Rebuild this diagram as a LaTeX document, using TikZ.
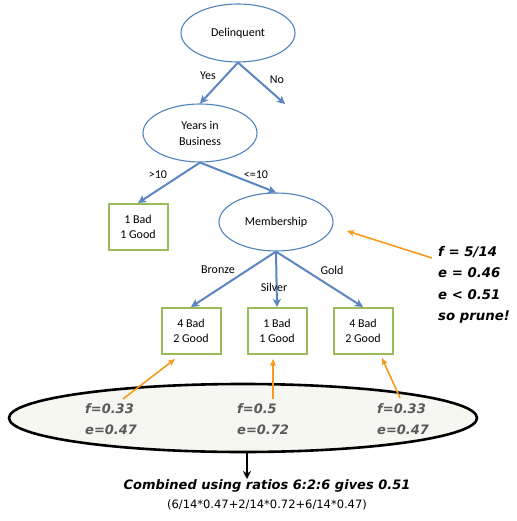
\documentclass[tikz,border=0pt]{standalone}
\usepackage{fontspec}
\setmainfont{Carlito}
\newfontfamily\djv{DejaVu Sans}
\usetikzlibrary{arrows.meta,shapes.geometric}
\definecolor{nodeblue}{HTML}{4F81BD}
\definecolor{edgeblue}{HTML}{5B86C2}
\definecolor{leafgreen}{HTML}{9BBB59}
\definecolor{arrorange}{HTML}{F79A1E}
\definecolor{grytxt}{HTML}{595959}
\definecolor{ellfill}{HTML}{F6F7F1}
\begin{document}
\begin{tikzpicture}[x=1pt,y=-1pt,
  decision/.style={ellipse,draw=nodeblue,line width=1.1pt,minimum width=114pt,minimum height=58pt,inner sep=0pt,align=center,font=\fontsize{12}{16}\selectfont},
  leaf/.style={draw=leafgreen,line width=2pt,minimum width=59pt,minimum height=46pt,inner sep=0pt,align=center,font=\fontsize{12}{15}\selectfont},
  edge/.style={draw=edgeblue,line width=2pt,-{Stealth[length=8pt,width=8pt,inset=2pt]}},
  elabel/.style={font=\fontsize{12}{14}\selectfont,inner sep=0pt},
  orangearrow/.style={draw=arrorange,line width=1.6pt,-{Stealth[length=7pt,width=6pt,inset=1.5pt]}},
  note/.style={font=\djv\bfseries\itshape\fontsize{13.3}{21.5}\selectfont,align=left,inner sep=0pt},
  gnote/.style={font=\djv\bfseries\itshape\fontsize{13}{21.5}\selectfont,text=grytxt,align=left,inner sep=0pt,anchor=west}
]
\useasboundingbox (0,0) rectangle (516,521);
% tree nodes
\node[decision] (del) at (238,33) {Delinquent};
\node[decision] (yrs) at (200,133) {Years in\\Business};
\node[decision] (mem) at (276,222) {Membership};
\node[leaf] (l1) at (138,227) {1 Bad\\1 Good};
\node[leaf] (lb) at (191,331) {4 Bad\\2 Good};
\node[leaf] (ls) at (277,331) {1 Bad\\1 Good};
\node[leaf] (lg) at (363,331) {4 Bad\\2 Good};
\coordinate (noend) at (285,104);
% edges
\draw[edge] (del.south) -- (yrs.north);
\draw[edge] (del.south) -- (noend);
\draw[edge] (yrs.south) -- (l1.north);
\draw[edge] (yrs.south) -- (mem.north);
\draw[edge] (mem.south) -- (lb.north);
\draw[edge] (mem.south) -- (ls.north);
\draw[edge] (mem.south) -- (lg.north);
% edge labels
\node[elabel] (yes) at (208,76) {Yes};
\node[elabel] (no) at (277,80) {No};
\node[elabel] (gt) at (158,175) {>10};
\node[elabel] (le) at (256,175) {<=10};
\node[elabel] (bronze) at (218,270) {Bronze};
\node[elabel] (silver) at (274,287) {Silver};
\node[elabel] (gold) at (332,270) {Gold};
% prune note
\node[note,anchor=north west] (prune) at (438,246) {f = 5/14\\e = 0.46\\e < 0.51\\so prune!};
\coordinate (ps) at (432,258);
\coordinate (pe) at (347,231);
\draw[orangearrow] (ps) -- (pe);
% big ellipse
\node[ellipse,draw=black,line width=2.6pt,fill=ellfill,minimum width=468pt,minimum height=68pt,inner sep=0pt] (big) at (243,418) {};
\node[gnote] (t1) at (85,409) {f=0.33};
\node[gnote] (t2) at (85,430) {e=0.47};
\node[gnote] (t3) at (237,409) {f=0.5};
\node[gnote] (t4) at (237,430) {e=0.72};
\node[gnote] (t5) at (377,409) {f=0.33};
\node[gnote] (t6) at (377,430) {e=0.47};
\coordinate (s1) at (123,399);
\coordinate (e1) at (175,359);
\coordinate (s2) at (273,399);
\coordinate (e2) at (273,359);
\coordinate (s3) at (400,398);
\coordinate (e3) at (382,358);
\draw[orangearrow] (s1) -- (e1);
\draw[orangearrow] (s2) -- (e2);
\draw[orangearrow] (s3) -- (e3);
% combined
\coordinate (ce) at (247,479);
\draw[line width=2.2pt,-{Stealth[length=8pt,width=8pt]}] (big.south -| ce) -- (ce);
\node[font=\djv\bfseries\itshape\fontsize{13}{16}\selectfont,inner sep=0pt] (comb) at (267,486) {Combined using ratios 6:2:6 gives 0.51};
\node[font=\djv\fontsize{11.5}{14}\selectfont,inner sep=0pt] (calc) at (267,505) {(6/14*0.47+2/14*0.72+6/14*0.47)};
\end{tikzpicture}
\end{document}
